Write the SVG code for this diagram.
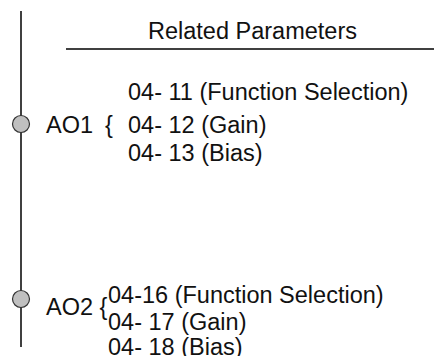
<svg xmlns="http://www.w3.org/2000/svg" width="434" height="356" viewBox="0 0 434 356">
<style>
text{font-family:"Liberation Sans",Arial,sans-serif;font-size:23.5px;fill:#111}
.ln{stroke:#000;stroke-width:1.5;fill:none}
.dot{fill:#c0c0c0;stroke:#333;stroke-width:1.2}
</style>
<rect width="434" height="356" fill="#fff"/>
<g id="connectors">
<line class="ln" x1="21" y1="11" x2="21" y2="347"/>
<line class="ln" x1="66" y1="49" x2="434" y2="49"/>
</g>
<g id="header"><text x="148" y="39">Related Parameters</text></g>
<g id="ao1">
<circle class="dot" cx="21" cy="124" r="8.5"/>
<text x="46" y="133" font-size="24.5">AO1</text>
<text x="105" y="133">{</text>
<text x="128" y="100">04- 11 (Function Selection)</text>
<text x="128" y="133">04- 12 (Gain)</text>
<text x="128" y="161">04- 13 (Bias)</text>
</g>
<g id="ao2">
<circle class="dot" cx="21" cy="299" r="8.5"/>
<text x="46" y="315" font-size="24.5">AO2</text>
<text x="99.5" y="315">{</text>
<text x="108" y="303">04-16 (Function Selection)</text>
<text x="108" y="330">04- 17 (Gain)</text>
<text x="108" y="355">04- 18 (Bias)</text>
</g>
</svg>
